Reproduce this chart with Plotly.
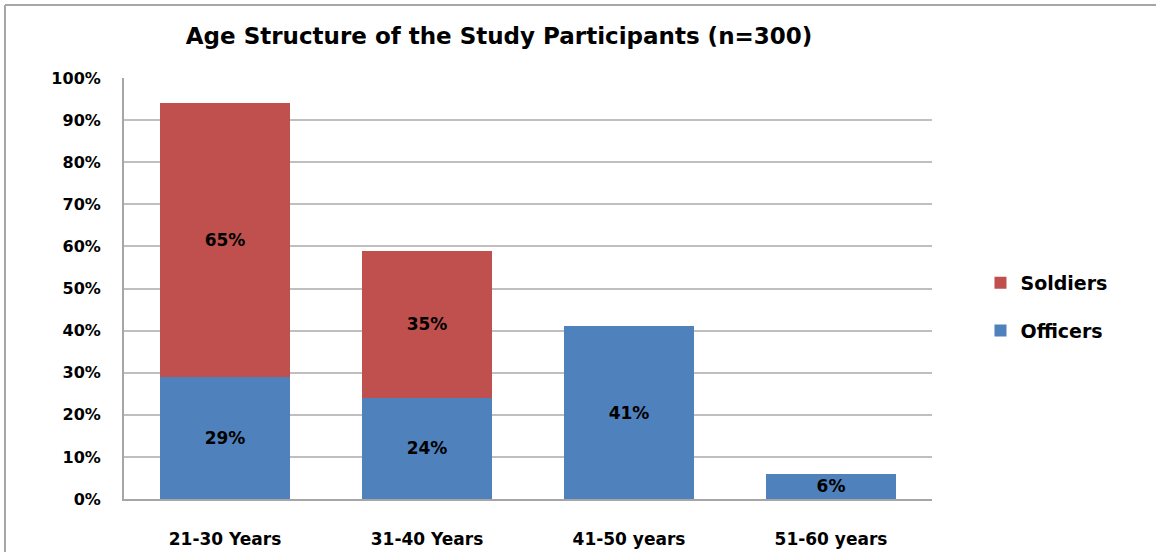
import plotly.graph_objects as go

categories = ["21-30 Years", "31-40 Years", "41-50 years", "51-60 years"]
officers = [29, 24, 41, 6]
soldiers = [65, 35, None, None]
y_ticks = list(range(0, 101, 10))
y_tick_labels = [f"{v}%" for v in y_ticks]

FONT = "DejaVu Sans, Verdana, sans-serif"


def labels(vals):
    return [f"{v}%" if v is not None else "" for v in vals]


fig = go.Figure()
fig.add_trace(go.Bar(
    x=categories, y=officers, name="Officers", legendgroup="o", legendrank=2,
    marker=dict(color="#4F81BD", line=dict(width=0)),
    text=labels(officers), texttemplate="%{text}",
    textposition="inside", insidetextanchor="middle",
    constraintext="none",
    textfont=dict(family=FONT, size=17, color="black", weight="bold"),
))
fig.add_trace(go.Bar(
    x=categories, y=soldiers, name="Soldiers", legendgroup="s", legendrank=1,
    marker=dict(color="#C0504D", line=dict(width=0)),
    text=labels(soldiers), texttemplate="%{text}",
    textposition="inside", insidetextanchor="middle",
    constraintext="none",
    textfont=dict(family=FONT, size=17, color="black", weight="bold"),
))

fig.update_layout(
    barmode="stack",
    bargap=0.36,
    width=1156, height=552,
    margin=dict(l=124, r=224, t=78, b=53, autoexpand=False),
    paper_bgcolor="white", plot_bgcolor="white",
    title=dict(text="Age Structure of the Study Participants (n=300)",
               x=0.4317, xanchor="center", y=0.935, yanchor="middle",
               xref="container", yref="container",
               font=dict(family=FONT, size=23, color="black", weight="bold")),
    legend=dict(x=1.06, xanchor="left", y=0.456, yanchor="middle",
                traceorder="grouped", tracegroupgap=20,
                font=dict(family=FONT, size=19, color="black", weight="bold"),
                bgcolor="rgba(0,0,0,0)"),
    showlegend=True,
)
fig.update_yaxes(
    range=[0, 100], tickmode="array", tickvals=y_ticks, ticktext=y_tick_labels,
    showgrid=True, gridcolor="#BFBFBF", gridwidth=2,
    showline=True, linecolor="#A6A6A6", linewidth=2,
    ticks="", ticklabelstandoff=18, zeroline=False, automargin=False,
    tickfont=dict(family=FONT, size=16, color="black", weight="bold"),
)
fig.update_xaxes(
    showgrid=False, showline=True, linecolor="#A6A6A6", linewidth=2,
    ticks="", ticklabelstandoff=24, automargin=False,
    tickfont=dict(family=FONT, size=17, color="black", weight="bold"),
)

# outer chart frame (left and top edges visible)
fig.add_shape(type="line", xref="paper", yref="paper",
              x0=-0.1473, x1=1.4, y0=1.1734, y1=1.1734,
              line=dict(color="#A6A6A6", width=2))
fig.add_shape(type="line", xref="paper", yref="paper",
              x0=-0.1473, x1=-0.1473, y0=1.1734, y1=-0.3,
              line=dict(color="#A6A6A6", width=2))

fig.write_html("out.html", config={"displayModeBar": False},
               post_script="document.body.style.margin='0px';")
